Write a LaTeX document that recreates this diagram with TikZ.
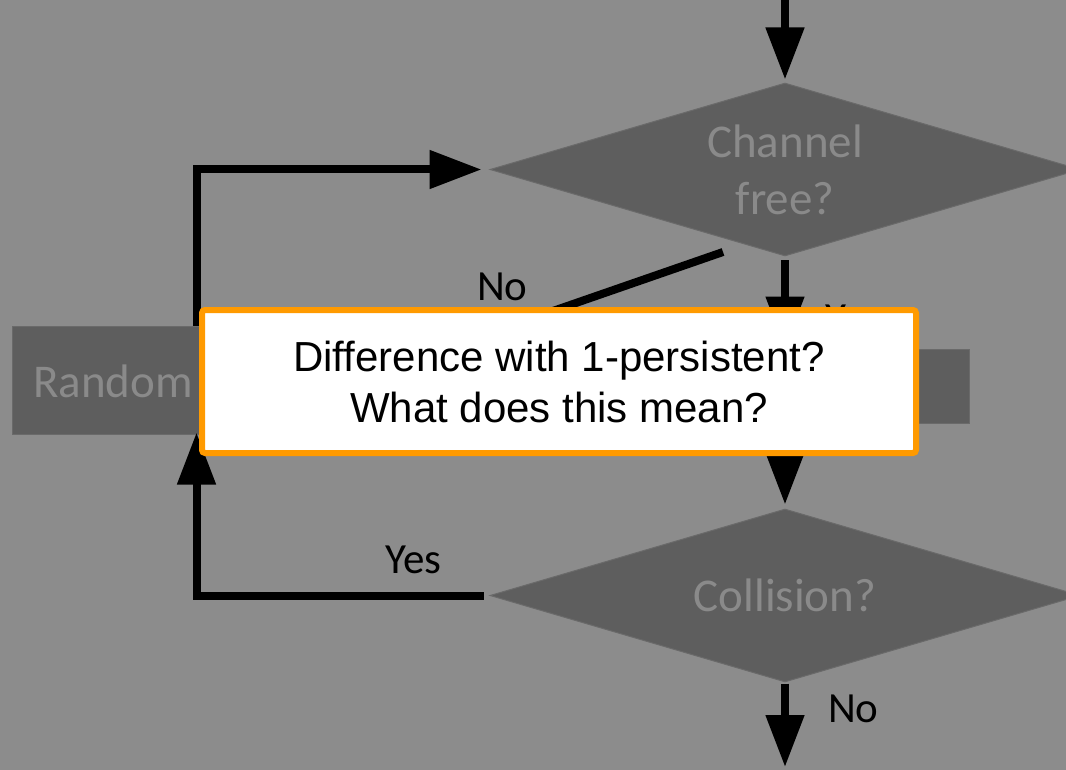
\documentclass[tikz,border=0pt]{standalone}
\usepackage{fontspec}
\setmainfont{Carlito}
\newfontfamily\notefont{Liberation Sans}
\usetikzlibrary{arrows.meta,shapes.geometric}
\definecolor{bggray}{HTML}{8C8C8C}
\definecolor{shapegray}{HTML}{5E5E5E}
\definecolor{edgegray}{HTML}{6A6A6A}
\definecolor{textgray}{HTML}{8A8A8A}
\definecolor{noteorange}{HTML}{FF9A00}
\tikzset{
  decision/.style={shape=diamond, aspect=3.41, minimum width=590pt, minimum height=173pt,
    inner sep=0pt, fill=shapegray, draw=edgegray, line width=1pt, text=textgray,
    align=center, font=\fontsize{47}{57}\selectfont},
  procbox/.style={shape=rectangle, fill=shapegray, draw=edgegray, line width=1pt, inner sep=0pt},
  graytext/.style={text=textgray, inner sep=0pt, font=\fontsize{47}{57}\selectfont},
  flow/.style={line width=8pt, draw=black, -{Triangle[length=52pt,width=37pt]}},
  plainline/.style={line width=8pt, draw=black},
  lbl/.style={inner sep=0pt, text=black, font=\fontsize{43}{51}\selectfont},
  notebox/.style={shape=rectangle, fill=white, draw=noteorange, line width=6pt, rounded corners=3pt,
    minimum width=714pt, minimum height=143pt, inner sep=0pt, align=center,
    font=\notefont\fontsize{42}{51}\selectfont}
}
\begin{document}
\begin{tikzpicture}[x=1pt,y=-1pt]
\useasboundingbox (0,0) rectangle (1066,770);
\clip (0,0) rectangle (1066,770);
\fill[bggray] (0,0) rectangle (1066,770);

% shapes
\node[decision] (free) at (785,169.5) {Channel\\free?};
\node[decision] (coll) at (785,595.5) {Collision?};
\node[procbox, minimum width=369pt, minimum height=108pt] (rand) at (196.5,380) {};
\node[graytext, anchor=base west] (randtxt) at (33,397) {Random};
\node[procbox, minimum width=369pt, minimum height=74pt] (proc) at (785,386) {};

% connectors
\coordinate (topin) at (785,0);
\coordinate (bottomout) at (785,767);
\coordinate (nostart) at (723,252);
\coordinate (noend) at (400,364);
\draw[flow, shorten >=3pt] (topin) -- (free.north);
\draw[flow, shorten <=4pt] (free.south) -- (proc.north);
\draw[flow, shorten >=4pt] (proc.south) -- (coll.north);
\draw[flow, shorten <=1pt] (coll.south) -- (bottomout);
\draw[flow, shorten <=6pt, shorten >=-2pt] (coll.west) -| (rand.south);
\draw[flow, shorten >=8pt] (rand.north) |- (free.west);
\draw[plainline] (nostart) -- (noend);

% labels
\node[lbl, anchor=base west] (lno1) at (477,300) {No};
\node[lbl, anchor=base west] (lyes1) at (825,332) {Yes};
\node[lbl, anchor=base west] (lyes2) at (385,573) {Yes};
\node[lbl, anchor=base west] (lno2) at (828,722) {No};

% annotation
\node[notebox] (note) at (559,381.5) {Difference with 1-persistent?\\What does this mean?};
\end{tikzpicture}
\end{document}
